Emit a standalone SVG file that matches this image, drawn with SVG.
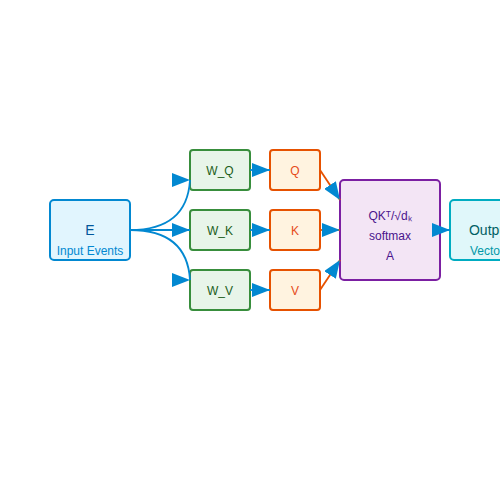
<svg xmlns="http://www.w3.org/2000/svg" width="500" height="500" viewBox="0 0 500 500">
<defs>
<marker id="ah" markerUnits="userSpaceOnUse" markerWidth="18" markerHeight="14" refX="18" refY="7" orient="auto"><path d="M0,0 L18,7 L0,14 z" fill="#0288d1"/></marker>
<marker id="ah0" markerUnits="userSpaceOnUse" markerWidth="18" markerHeight="14" refX="18" refY="7" orient="0"><path d="M0,0 L18,7 L0,14 z" fill="#0288d1"/></marker>
<style>
text{font-family:"Liberation Sans",Arial,sans-serif;text-anchor:middle}
.in rect{fill:#e1f5fe;stroke:#0288d1;stroke-width:2}
.w rect{fill:#e8f5e9;stroke:#388e3c;stroke-width:2}
.w text{fill:#1b5e20;font-size:12px}
.qkv rect{fill:#fff3e0;stroke:#e65100;stroke-width:2}
.qkv text{fill:#e64a19;font-size:12px}
.att rect{fill:#f3e5f5;stroke:#7b1fa2;stroke-width:2}
.att text{fill:#4a148c;font-size:12px}
.out rect{fill:#e0f7fa;stroke:#00acc1;stroke-width:2}
.b{fill:none;stroke:#0288d1;stroke-width:1.8}
.o{fill:none;stroke:#e65100;stroke-width:1.8}
</style>
</defs>
<rect width="500" height="500" fill="#ffffff"/>
<g id="E" class="in"><rect x="50" y="200" width="80" height="60" rx="4"/><text x="90" y="235" font-size="14" fill="#01579b">E</text><text x="90" y="255" font-size="12" fill="#0288d1">Input Events</text></g>
<g id="WQ" class="w"><rect x="190" y="150" width="60" height="40" rx="3"/><text x="220" y="175">W_Q</text></g>
<g id="WK" class="w"><rect x="190" y="210" width="60" height="40" rx="3"/><text x="220" y="235">W_K</text></g>
<g id="WV" class="w"><rect x="190" y="270" width="60" height="40" rx="3"/><text x="220" y="295">W_V</text></g>
<g id="Q" class="qkv"><rect x="270" y="150" width="50" height="40" rx="3"/><text x="295" y="175">Q</text></g>
<g id="K" class="qkv"><rect x="270" y="210" width="50" height="40" rx="3"/><text x="295" y="235">K</text></g>
<g id="V" class="qkv"><rect x="270" y="270" width="50" height="40" rx="3"/><text x="295" y="295">V</text></g>
<g id="attention" class="att"><rect x="340" y="180" width="100" height="100" rx="4"/><text x="390" y="220">QKᵀ/√dₖ</text><text x="390" y="240">softmax</text><text x="390" y="260" fill="#7b1fa2">A</text></g>
<g id="output" class="out"><rect x="450" y="200" width="80" height="60" rx="4"/><text x="490" y="235" font-size="14" fill="#006064">Output</text><text x="490" y="255" font-size="12" fill="#0097a7">Vectors</text></g>
<g id="connectors">
<path class="b" d="M130,230 C168,230 188,214 190,180" marker-end="url(#ah0)"/>
<path class="b" d="M130,230 L190,230" marker-end="url(#ah)"/>
<path class="b" d="M130,230 C168,230 188,246 190,280" marker-end="url(#ah0)"/>
<path class="b" d="M250,170 L270,170" marker-end="url(#ah)"/>
<path class="b" d="M250,230 L270,230" marker-end="url(#ah)"/>
<path class="b" d="M250,290 L270,290" marker-end="url(#ah)"/>
<path class="o" d="M320,170 L340,200" marker-end="url(#ah)"/>
<path class="o" d="M320,230 L340,230" marker-end="url(#ah)"/>
<path class="o" d="M320,290 L340,260" marker-end="url(#ah)"/>
<path class="b" d="M440,230 L450,230" marker-end="url(#ah)"/>
</g>
</svg>
